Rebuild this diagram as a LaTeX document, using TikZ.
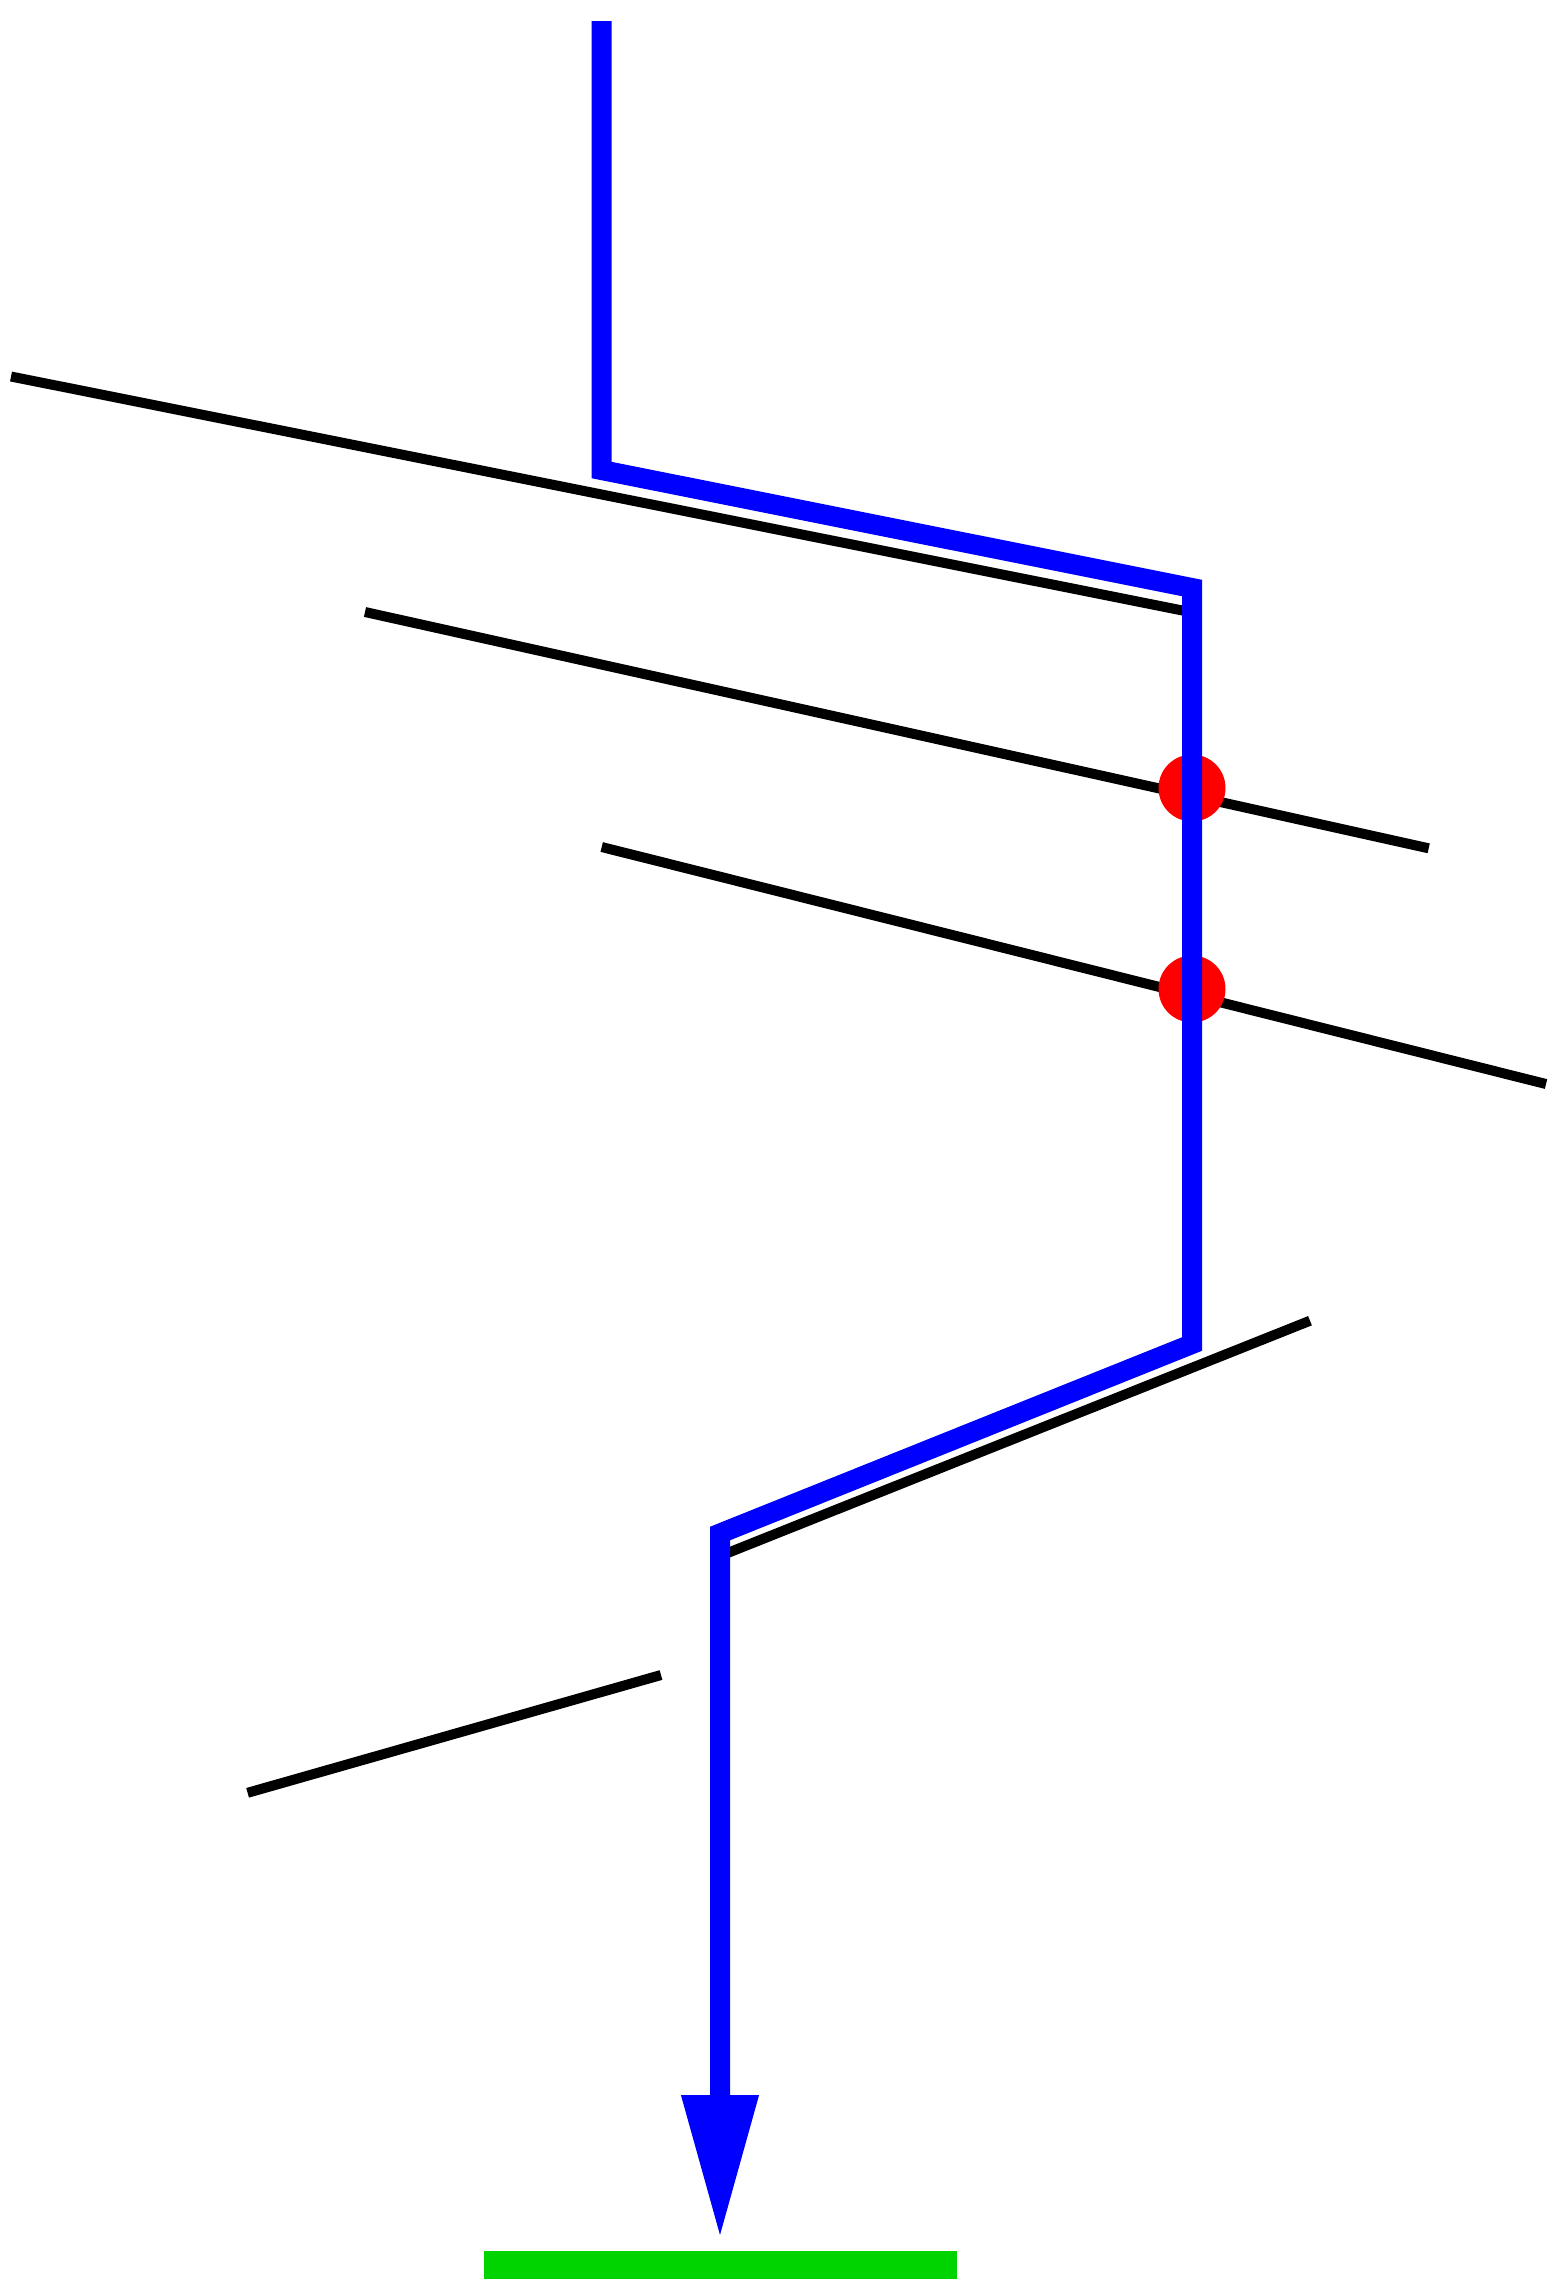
\documentclass[tikz,border=0pt]{standalone}
\usetikzlibrary{arrows.meta}
\definecolor{pathblue}{RGB}{0,0,255}
\definecolor{dotred}{RGB}{255,0,0}
\definecolor{floorgreen}{RGB}{0,212,0}
\begin{document}
\begin{tikzpicture}[x=0.5pt,y=-0.5pt,
  mirror/.style={draw=black,line width=5pt},
  ray/.style={draw=pathblue,line width=10pt,line join=miter,-{Triangle[length=72pt,width=36pt]}},
  hit/.style={fill=dotred},
  floor/.style={fill=floorgreen}]
\fill[white] (0,0) rectangle (1563,2288);
\useasboundingbox (0,0) rectangle (1563,2288);
% black lines
\coordinate (m1a) at (11,376.5);
\coordinate (m1b) at (1190,612);
\coordinate (m2a) at (365,612);
\coordinate (m2b) at (1428.7,848.3);
\coordinate (m3a) at (601.7,847);
\coordinate (m3b) at (1546,1084);
\coordinate (m4a) at (720,1556);
\coordinate (m4b) at (1310,1320.7);
\coordinate (m5a) at (247.6,1792.8);
\coordinate (m5b) at (661,1675);
% red hits
\coordinate (h1) at (1192,788);
\coordinate (h2) at (1192,989);
% blue ray
\coordinate (r0) at (601.5,21);
\coordinate (r1) at (601.5,470);
\coordinate (r2) at (1192,588);
\coordinate (r3) at (1192,1344);
\coordinate (r4) at (720,1533.5);
\coordinate (r5) at (720,2239);
% green floor
\coordinate (g1) at (484,2251);
\coordinate (g2) at (956.5,2279);

\draw[mirror] (m1a) -- (m1b);
\draw[mirror] (m2a) -- (m2b);
\draw[mirror] (m3a) -- (m3b);
\draw[mirror] (m4a) -- (m4b);
\draw[mirror] (m5a) -- (m5b);
\fill[hit] (h1) circle[radius=16.75pt];
\fill[hit] (h2) circle[radius=16.75pt];
\draw[ray] (r0) -- (r1) -- (r2) -- (r3) -- (r4) -- (r5);
\fill[floor] (g1) rectangle (g2);
\end{tikzpicture}
\end{document}
